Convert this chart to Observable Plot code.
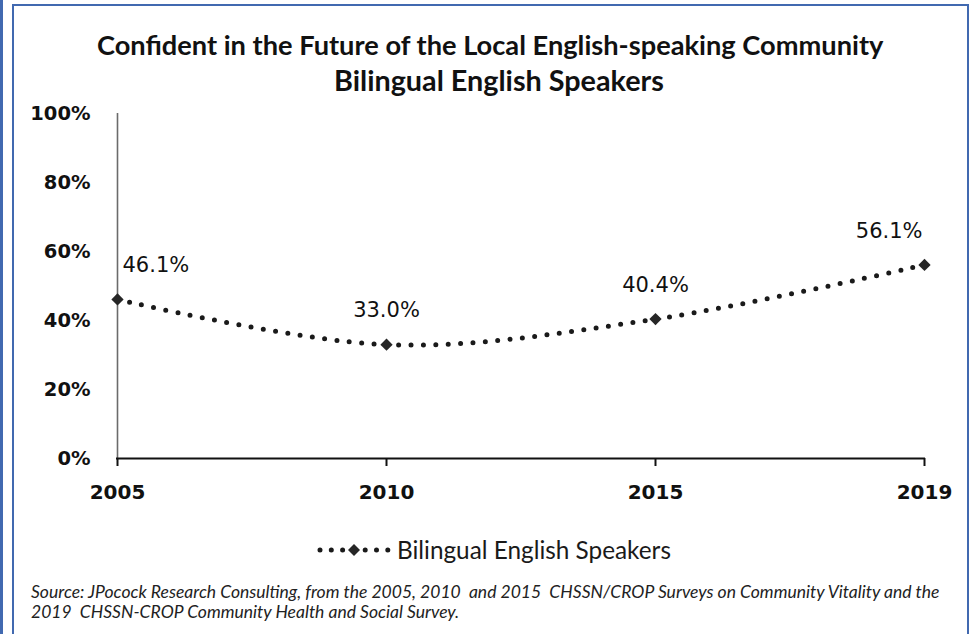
<!DOCTYPE html>
<html><head><meta charset="utf-8">
<script src="https://cdn.jsdelivr.net/npm/d3@7"></script>
<script src="https://cdn.jsdelivr.net/npm/@observablehq/plot@0.6"></script>
<style>
html,body{margin:0;padding:0;background:#fff;}
#wrap{position:relative;width:975px;height:634px;overflow:hidden;background:#fff;}
.box{position:absolute;left:12px;top:4px;width:957px;height:700px;border:2.5px solid #4169b0;box-sizing:border-box;}
.stray{position:absolute;left:0;top:0;width:3px;height:634px;background:#4169b0;}
.t{position:absolute;white-space:nowrap;color:#111;line-height:1;}
#plot{position:absolute;left:0;top:0;}
#legend{position:absolute;left:0;top:530px;}
</style>
</head><body>
<div id="wrap">
  <div class="stray"></div>
  <div class="box"></div>
  <div id="plot"></div>
  <div class="t" id="title1" style="font-family:Lato;font-weight:700;">Confident in the Future of the Local English-speaking Community</div>
  <div class="t" id="title2" style="font-family:Lato;font-weight:700;">Bilingual English Speakers</div>
  <svg id="legend" width="975" height="40"></svg>
  <div class="t" id="src1" style="font-family:Lato;font-style:italic;color:#222;">Source: JPocock Research Consulting, from the 2005, 2010&nbsp; and 2015&nbsp; CHSSN/CROP Surveys on Community Vitality and the</div>
  <div class="t" id="src2" style="font-family:Lato;font-style:italic;color:#222;">2019&nbsp; CHSSN-CROP Community Health and Social Survey.</div>
</div>
<script>
const years = ["2005", "2010", "2015", "2019"];
const values = [0.461, 0.330, 0.404, 0.561];
const valueLabels = ["46.1%", "33.0%", "40.4%", "56.1%"];
const yTicks = [0, 0.2, 0.4, 0.6, 0.8, 1.0];
const seriesName = "Bilingual English Speakers";

const data = years.map((y, i) => ({year: y, value: values[i], label: valueLabels[i]}));
const last = years.length - 1;

const chart = Plot.plot({
  width: 975,
  height: 520,
  marginLeft: 116,
  marginRight: 50,
  marginTop: 113,
  marginBottom: 62,
  x: {type: "point", domain: years, padding: 0, label: null},
  y: {domain: [0, 1], label: null},
  style: {fontFamily: "DejaVu Sans", background: "transparent", overflow: "visible", color: "#111"},
  marks: [
    Plot.ruleX([years[0]], {y1: 0, y2: 1, stroke: "#6b6b6b", strokeWidth: 1.6}),
    Plot.axisY({ticks: yTicks, tickFormat: d3.format(".0%"), tickSize: 0, tickPadding: 26,
      fontSize: 19.5, fontWeight: "bold", fill: "#111", label: null}),
    Plot.ruleY([0], {stroke: "#111", strokeWidth: 2}),
    Plot.axisX({tickSize: 8, tickPadding: 18, fontSize: 20, fontWeight: "bold",
      stroke: "#111", fill: "#111", strokeWidth: 2, label: null}),
    Plot.line(data, {x: "year", y: "value", curve: "catmull-rom", stroke: "#1a1a1a",
      strokeWidth: 5, strokeDasharray: "0 12.4", strokeLinecap: "round"}),
    Plot.dot(data, {x: "year", y: "value", symbol: "square", rotate: 45, r: 4.9, fill: "#262626", stroke: "none"}),
    Plot.text(data, {filter: (d, i) => i === 0, x: "year", y: "value", text: "label",
      textAnchor: "start", dx: 5, dy: -34, fontSize: 21, fill: "#111"}),
    Plot.text(data, {filter: (d, i) => i > 0 && i < last, x: "year", y: "value", text: "label",
      textAnchor: "middle", dy: -34, fontSize: 21, fill: "#111"}),
    Plot.text(data, {filter: (d, i) => i === last, x: "year", y: "value", text: "label",
      textAnchor: "end", dx: -2, dy: -34, fontSize: 21, fill: "#111"})
  ]
});
document.getElementById("plot").appendChild(chart);

// legend swatch
const lg = d3.select("#legend");
lg.append("line").attr("x1", 320).attr("x2", 388).attr("y1", 20).attr("y2", 20)
  .attr("stroke", "#1a1a1a").attr("stroke-width", 5).attr("stroke-dasharray", "0 11.3")
  .attr("stroke-linecap", "round");
lg.append("path").attr("d", d3.symbol(d3.symbolSquare, 72)()).attr("transform", "translate(354,20) rotate(45)")
  .attr("fill", "#262626");

// text fitting helper
const cv = document.createElement("canvas").getContext("2d");
function fitSize(text, font, w) {
  cv.font = font.replace("SZ", "100px");
  return 100 * w / cv.measureText(text).width;
}
function place(id, font, left, width, cy, sizeOverride) {
  const el = document.getElementById(id);
  const txt = el.textContent;
  const s = sizeOverride || fitSize(txt, font, width);
  el.style.fontSize = s + "px";
  el.style.left = left + "px";
  el.style.top = (cy - s * 0.5) + "px";
  return s;
}
place("title1", "bold SZ Lato", 97, 787, 45);
place("title2", "bold SZ Lato", 334, 330, 80);
const ss = place("src1", "italic SZ Lato", 31, 912, 592);
place("src2", "italic SZ Lato", 31, 0, 612, ss);

const ls = fitSize(seriesName, "SZ Lato", 274);
lg.append("text").attr("x", 397).attr("y", 20).attr("dy", "0.35em")
  .attr("font-family", "Lato").attr("font-size", ls).attr("fill", "#1a1a1a").text(seriesName);
</script>
</body></html>
